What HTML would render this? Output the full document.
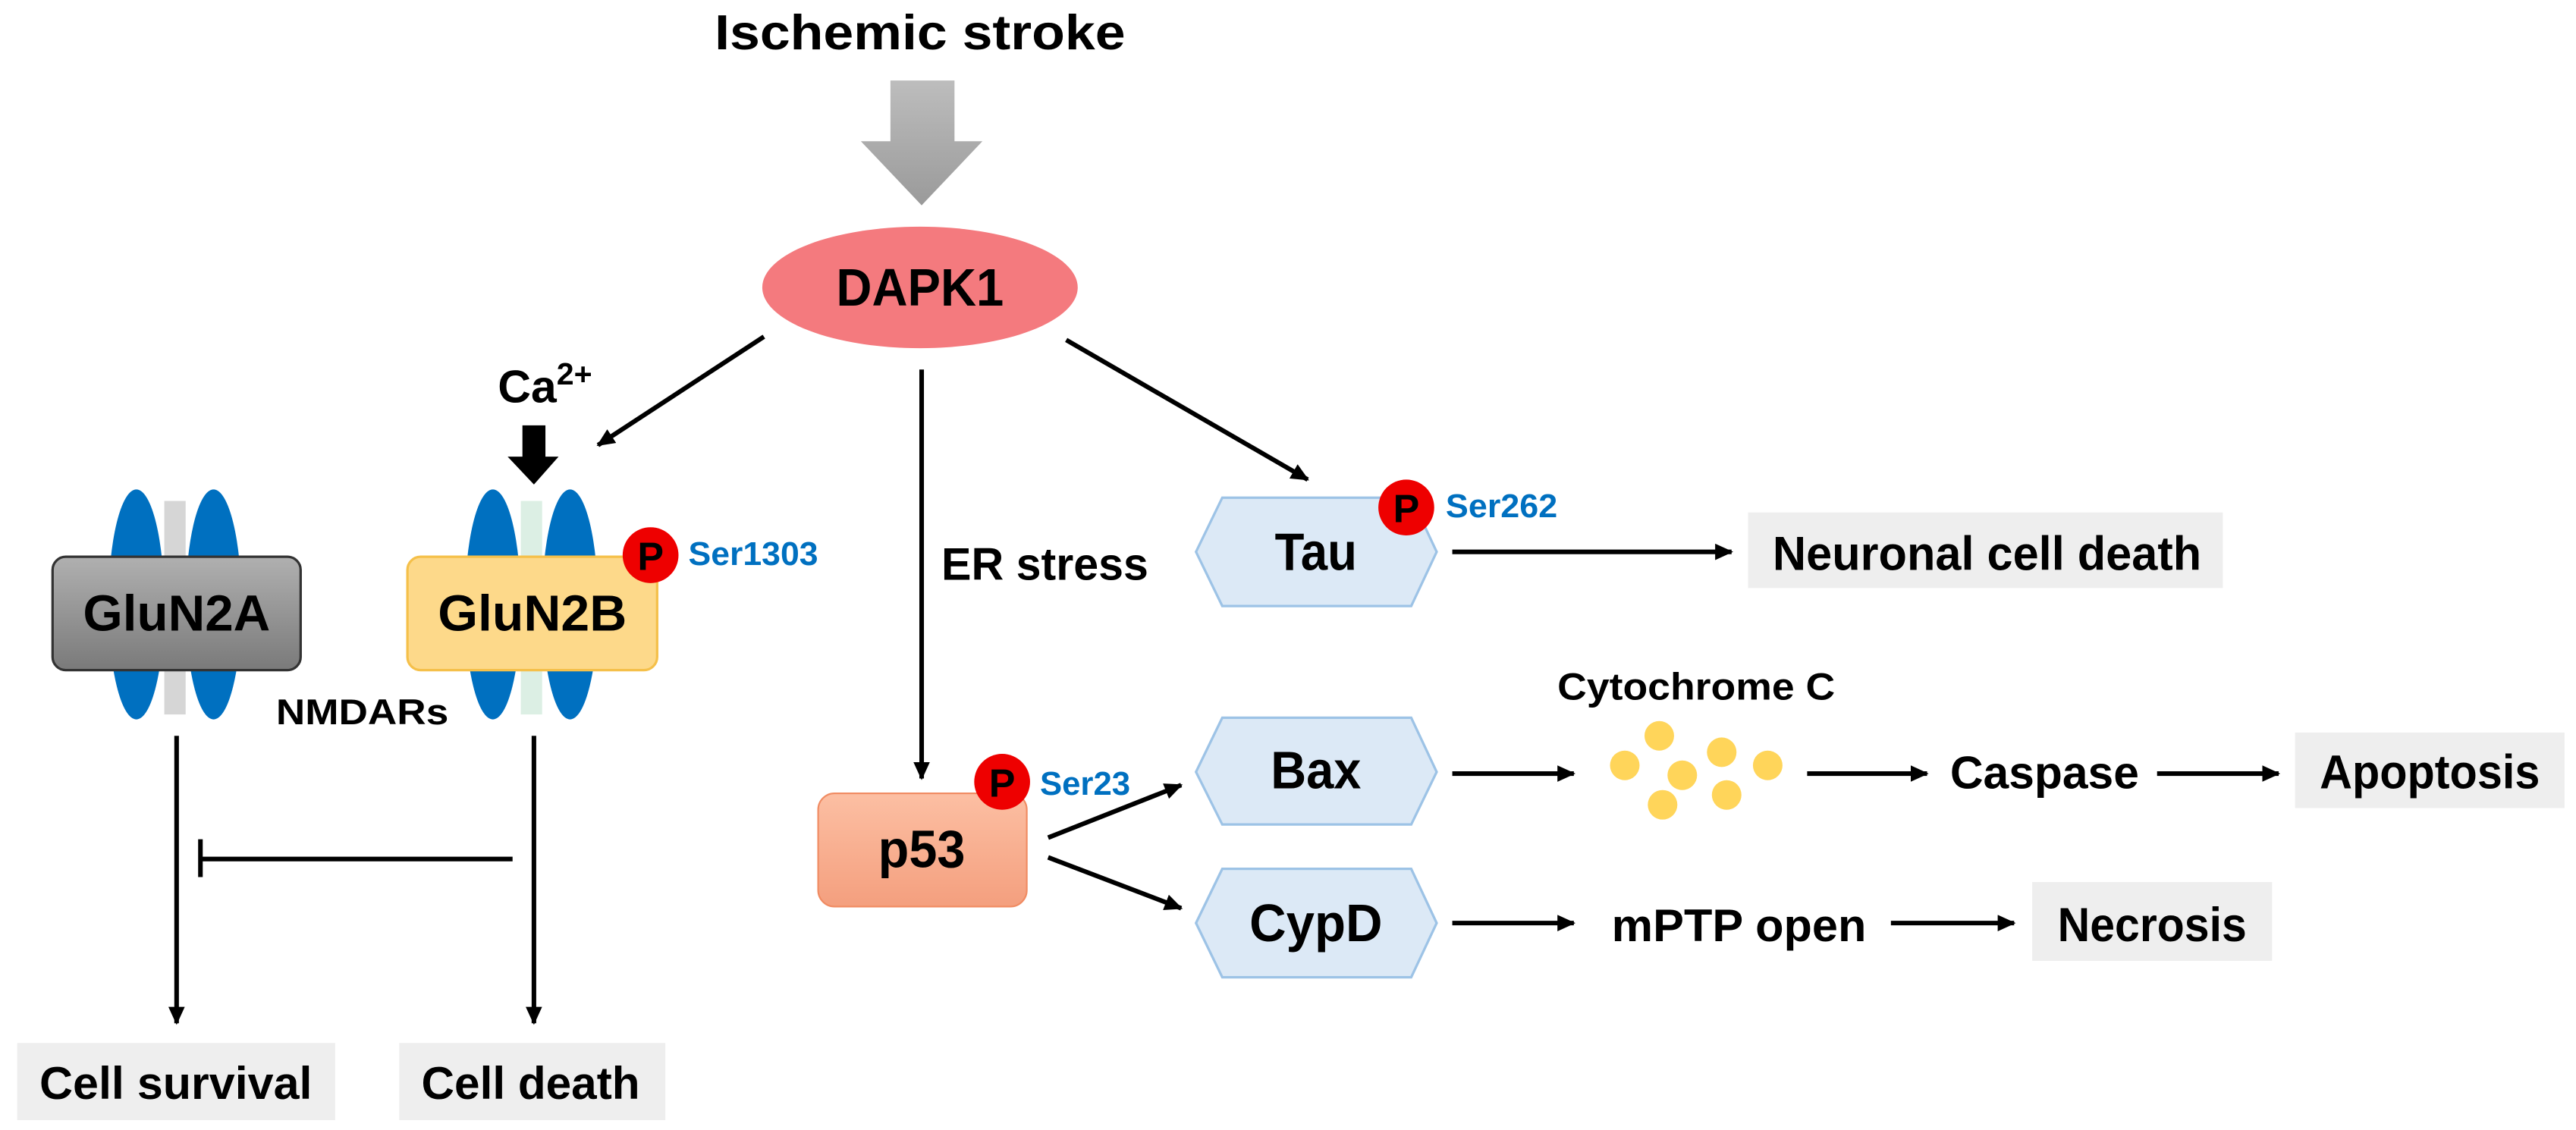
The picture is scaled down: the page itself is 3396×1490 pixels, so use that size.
<!DOCTYPE html>
<html><head><style>
html,body{margin:0;padding:0;background:#fff}
svg{display:block}
text{font-family:"Liberation Sans",Arial,sans-serif;font-weight:bold}
</style></head><body>
<svg width="3396" height="1490" viewBox="0 0 1568 688" preserveAspectRatio="none" xmlns="http://www.w3.org/2000/svg">
<defs>
<marker id="ah" markerWidth="11" markerHeight="10" refX="10" refY="5" orient="auto" markerUnits="userSpaceOnUse"><path d="M0,0 L11,5 L0,10 z" fill="#000"/></marker>
<linearGradient id="ga" x1="0" y1="0" x2="0" y2="1"><stop offset="0" stop-color="#bdbdbd"/><stop offset="1" stop-color="#9a9a9a"/></linearGradient>
<linearGradient id="gp" x1="0" y1="0" x2="0" y2="1"><stop offset="0" stop-color="#fcbfa3"/><stop offset="1" stop-color="#f49f7e"/></linearGradient>
<linearGradient id="gg" x1="0" y1="0" x2="0" y2="1"><stop offset="0" stop-color="#b0b0b0"/><stop offset="1" stop-color="#7a7a7a"/></linearGradient>
</defs>

<text x="560" y="30" font-size="30" text-anchor="middle" textLength="250" lengthAdjust="spacingAndGlyphs">Ischemic stroke</text>
<path d="M542,49 H581 V86 H598 L561,125 L524,86 H542 Z" fill="url(#ga)"/>

<ellipse cx="560" cy="175" rx="96" ry="37" fill="#f47a7e"/>
<text x="560" y="186" font-size="32" text-anchor="middle" textLength="102" lengthAdjust="spacingAndGlyphs">DAPK1</text>

<g stroke="#000" stroke-width="2.8" fill="none">
<line x1="465" y1="205" x2="364" y2="271" marker-end="url(#ah)"/>
<line x1="649" y1="207" x2="796" y2="292" marker-end="url(#ah)"/>
<line x1="561" y1="225" x2="561" y2="474" marker-end="url(#ah)"/>
<line x1="107.5" y1="448" x2="107.5" y2="623" marker-end="url(#ah)"/>
<line x1="325" y1="448" x2="325" y2="623" marker-end="url(#ah)"/>
<line x1="312" y1="523" x2="122" y2="523"/>
<line x1="122" y1="511" x2="122" y2="534"/>
<line x1="638" y1="510" x2="719" y2="478" marker-end="url(#ah)"/>
<line x1="638" y1="522" x2="719" y2="553" marker-end="url(#ah)"/>
<line x1="884" y1="336" x2="1054" y2="336" marker-end="url(#ah)"/>
<line x1="884" y1="471" x2="958" y2="471" marker-end="url(#ah)"/>
<line x1="1100" y1="471" x2="1173" y2="471" marker-end="url(#ah)"/>
<line x1="1313" y1="471" x2="1387" y2="471" marker-end="url(#ah)"/>
<line x1="884" y1="562" x2="958" y2="562" marker-end="url(#ah)"/>
<line x1="1151" y1="562" x2="1226" y2="562" marker-end="url(#ah)"/>
</g>

<text x="303" y="245" font-size="28">Ca<tspan font-size="19" dy="-11">2+</tspan></text>
<path d="M318,259 H332 V278 H340 L325,295 L309,278 H318 Z" fill="#000"/>

<!-- GluN2A -->
<ellipse cx="83" cy="368" rx="17" ry="70" fill="#0070c0"/>
<ellipse cx="130" cy="368" rx="17" ry="70" fill="#0070c0"/>
<rect x="100" y="305" width="13" height="130" fill="#d6d6d6"/>
<rect x="32" y="339" width="151" height="69" rx="8" fill="url(#gg)" stroke="#333" stroke-width="1.5"/>
<text x="107.5" y="384" font-size="31" text-anchor="middle" textLength="114" lengthAdjust="spacingAndGlyphs">GluN2A</text>

<!-- GluN2B -->
<ellipse cx="300" cy="368" rx="17" ry="70" fill="#0070c0"/>
<ellipse cx="347" cy="368" rx="17" ry="70" fill="#0070c0"/>
<rect x="317" y="305" width="13" height="130" fill="#dcefe4"/>
<rect x="248" y="339" width="152" height="69" rx="8" fill="#fdd98a" stroke="#f5c04a" stroke-width="1.5"/>
<text x="324" y="384" font-size="31" text-anchor="middle" textLength="115" lengthAdjust="spacingAndGlyphs">GluN2B</text>
<circle cx="396" cy="338" r="17" fill="#ee0000"/>
<text x="396" y="347" font-size="24" text-anchor="middle">P</text>
<text x="419" y="344" font-size="20" fill="#0070c0" textLength="79" lengthAdjust="spacingAndGlyphs">Ser1303</text>
<text x="168" y="441" font-size="22" textLength="105" lengthAdjust="spacingAndGlyphs">NMDARs</text>

<rect x="10.5" y="635" width="193.5" height="47" fill="#eeeeee"/>
<text x="107" y="669" font-size="28" text-anchor="middle" textLength="166" lengthAdjust="spacingAndGlyphs">Cell survival</text>
<rect x="243" y="635" width="162" height="47" fill="#eeeeee"/>
<text x="323" y="669" font-size="28" text-anchor="middle" textLength="133" lengthAdjust="spacingAndGlyphs">Cell death</text>

<text x="573" y="353" font-size="28" textLength="126" lengthAdjust="spacingAndGlyphs">ER stress</text>

<rect x="498" y="483" width="127" height="69" rx="10" fill="url(#gp)" stroke="#f08b62" stroke-width="1"/>
<text x="561" y="528" font-size="32" text-anchor="middle" textLength="53" lengthAdjust="spacingAndGlyphs">p53</text>
<circle cx="610" cy="476" r="17" fill="#ee0000"/>
<text x="610" y="485" font-size="24" text-anchor="middle">P</text>
<text x="633" y="484" font-size="20" fill="#0070c0" textLength="55" lengthAdjust="spacingAndGlyphs">Ser23</text>

<!-- hexagons -->
<g fill="#dce9f6" stroke="#9dc3e6" stroke-width="1.5">
<path d="M728,336 L744,303 H859 L874.5,336 L859,369 H744 Z"/>
<path d="M728,470 L744,437 H859 L874.5,470 L859,502 H744 Z"/>
<path d="M728,562 L744,529 H859 L874.5,562 L859,595 H744 Z"/>
</g>
<text x="801" y="347" font-size="32" text-anchor="middle" textLength="50" lengthAdjust="spacingAndGlyphs">Tau</text>
<text x="801" y="480" font-size="32" text-anchor="middle" textLength="55" lengthAdjust="spacingAndGlyphs">Bax</text>
<text x="801" y="573" font-size="32" text-anchor="middle" textLength="81" lengthAdjust="spacingAndGlyphs">CypD</text>
<circle cx="856" cy="309" r="17" fill="#ee0000"/>
<text x="856" y="318" font-size="24" text-anchor="middle">P</text>
<text x="880" y="315" font-size="20" fill="#0070c0" textLength="68" lengthAdjust="spacingAndGlyphs">Ser262</text>

<rect x="1064" y="312" width="289" height="46" fill="#eeeeee"/>
<text x="1079" y="347" font-size="29" textLength="261" lengthAdjust="spacingAndGlyphs">Neuronal cell death</text>

<text x="948" y="426" font-size="23" textLength="169" lengthAdjust="spacingAndGlyphs">Cytochrome C</text>
<g fill="#ffd55a">
<circle cx="1010" cy="448" r="9"/><circle cx="989" cy="466" r="9"/><circle cx="1024" cy="472" r="9"/>
<circle cx="1048" cy="458" r="9"/><circle cx="1076" cy="466" r="9"/><circle cx="1012" cy="490" r="9"/><circle cx="1051" cy="484" r="9"/>
</g>
<text x="1187" y="480" font-size="28" textLength="115" lengthAdjust="spacingAndGlyphs">Caspase</text>
<rect x="1397" y="446" width="164" height="46" fill="#eeeeee"/>
<text x="1479" y="480" font-size="29" text-anchor="middle" textLength="134" lengthAdjust="spacingAndGlyphs">Apoptosis</text>

<text x="981" y="573" font-size="28" textLength="155" lengthAdjust="spacingAndGlyphs">mPTP open</text>
<rect x="1237" y="537" width="146" height="48" fill="#eeeeee"/>
<text x="1310" y="573" font-size="29" text-anchor="middle" textLength="115" lengthAdjust="spacingAndGlyphs">Necrosis</text>
</svg>
</body></html>
